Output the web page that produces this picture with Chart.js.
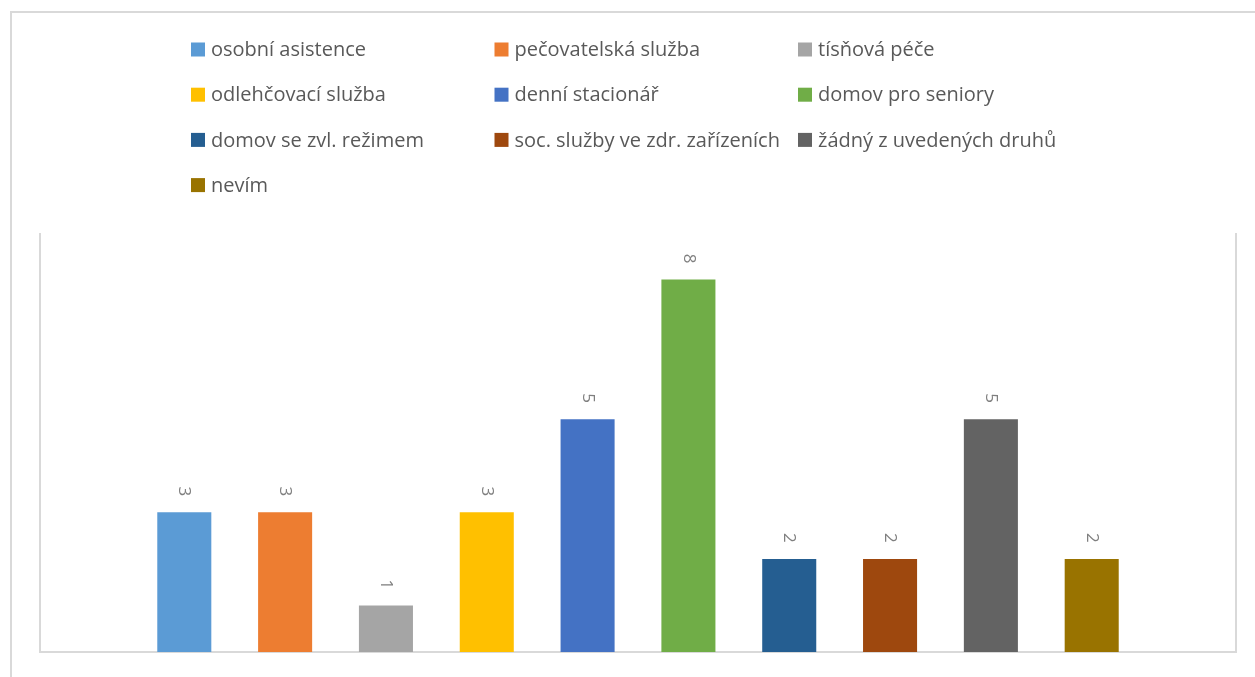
<!DOCTYPE html>
<html>
<head>
<meta charset="utf-8">
<script src="https://cdn.jsdelivr.net/npm/chart.js@4"></script>
<style>
  html, body { margin: 0; padding: 0; background: #fff; }
  #wrap { width: 1255px; height: 677px; position: relative; }
</style>
</head>
<body>
<div id="wrap"><canvas id="graf"></canvas></div>
<script>
const sluzby = [
    'osobní asistence',
    'pečovatelská služba',
    'tísňová péče',
    'odlehčovací služba',
    'denní stacionář',
    'domov pro seniory',
    'domov se zvl. režimem',
    'soc. služby ve zdr. zařízeních',
    'žádný z uvedených druhů',
    'nevím'
];
const pocty = [3, 3, 1, 3, 5, 8, 2, 2, 5, 2];
const barvy = ['#5B9BD5', '#ED7D31', '#A5A5A5', '#FFC000', '#4472C4', '#70AD47', '#255E91', '#9E480E', '#636363', '#997300'];

const ramecek = '#d9d9d9';
const pismo = '"Open Sans", "Noto Sans", sans-serif';

// legenda v mrizce 3 sloupce jako v Excelu
const legendaPlugin = {
    id: 'legendaMrizka',
    afterDraw: function(chart) {
        const ctx = chart.ctx;
        ctx.save();
        ctx.font = '20px ' + pismo;
        ctx.textBaseline = 'middle';
        ctx.textAlign = 'left';
        chart.data.datasets.forEach(function(ds, i) {
            let col = i % 3;
            let row = Math.floor(i / 3);
            let x = 191 + col * 303.5;
            let y = 49.5 + row * 45.2;
            ctx.fillStyle = ds.backgroundColor;
            ctx.fillRect(x, y - 7, 14, 14);
            ctx.fillStyle = '#595959';
            ctx.fillText(ds.label, x + 20, y + 1);
        });
        ctx.restore();
    }
};

// ramecky grafu a plochy
const ramPlugin = {
    id: 'ramecky',
    beforeDraw: function(chart) {
        const ctx = chart.ctx;
        const a = chart.chartArea;
        ctx.save();
        ctx.strokeStyle = ramecek;
        ctx.lineWidth = 2;
        ctx.beginPath();
        ctx.moveTo(11, chart.height + 5);
        ctx.lineTo(11, 12);
        ctx.lineTo(chart.width + 5, 12);
        ctx.stroke();
        ctx.beginPath();
        ctx.moveTo(a.left, a.top);
        ctx.lineTo(a.left, a.bottom);
        ctx.lineTo(a.right, a.bottom);
        ctx.lineTo(a.right, a.top);
        ctx.stroke();
        ctx.restore();
    }
};

// popisky hodnot otocene o 90 stupnu
const popiskyPlugin = {
    id: 'popisky',
    afterDatasetsDraw: function(chart) {
        const ctx = chart.ctx;
        ctx.save();
        ctx.font = '17px ' + pismo;
        ctx.fillStyle = '#7f7f7f';
        ctx.textAlign = 'center';
        ctx.textBaseline = 'middle';
        chart.data.datasets.forEach(function(ds, i) {
            let bar = chart.getDatasetMeta(i).data[0];
            ctx.save();
            ctx.translate(bar.x, bar.y - 21);
            ctx.rotate(Math.PI / 2);
            ctx.fillText(String(ds.data[0]), 0, 0);
            ctx.restore();
        });
        ctx.restore();
    }
};

const datasety = sluzby.map(function(nazev, i) {
    return {
        label: nazev,
        data: [pocty[i]],
        backgroundColor: barvy[i],
        borderWidth: 0,
        categoryPercentage: 0.843,
        barPercentage: 0.536
    };
});

new Chart(document.getElementById('graf'), {
    type: 'bar',
    data: {
        labels: [''],
        datasets: datasety
    },
    options: {
        responsive: true,
        maintainAspectRatio: false,
        animation: false,
        layout: {
            padding: { left: 40, right: 19, top: 233, bottom: 25 }
        },
        plugins: {
            legend: { display: false },
            tooltip: { enabled: false }
        },
        scales: {
            x: { display: false },
            y: { display: false, min: 0, max: 9 }
        }
    },
    plugins: [ramPlugin, legendaPlugin, popiskyPlugin]
});
</script>
</body>
</html>
